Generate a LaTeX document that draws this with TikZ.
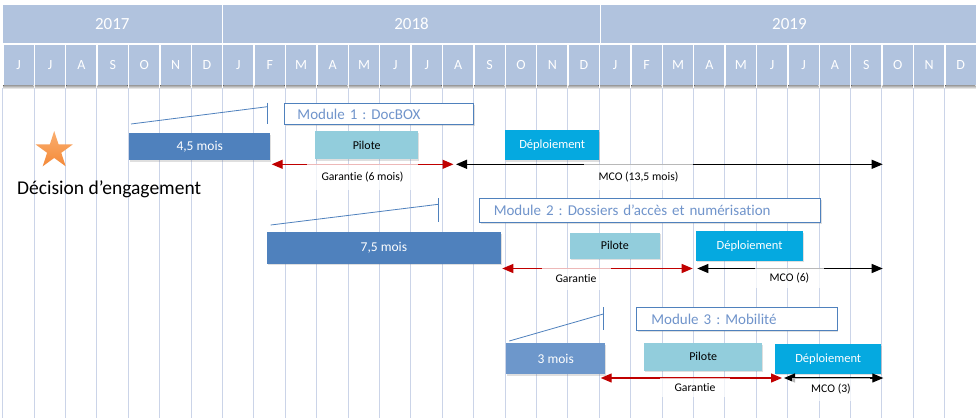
\documentclass[tikz,border=0pt]{standalone}
\usepackage{fontspec}
\setmainfont{Carlito}[Ligatures=NoCommon]
\usetikzlibrary{arrows.meta,shapes.geometric,shadows}
\definecolor{hdr}{HTML}{B1C3DE}
\definecolor{gridc}{HTML}{CBD4E8}
\definecolor{darkb}{HTML}{4F81BD}
\definecolor{midb}{HTML}{6D97CB}
\definecolor{pil}{HTML}{92CDDC}
\definecolor{depc}{HTML}{05A9E0}
\definecolor{modtxt}{HTML}{7094CB}
\definecolor{redc}{HTML}{C00000}
\definecolor{starlight}{HTML}{FAAE70}
\definecolor{stardark}{HTML}{F48A38}
\frenchspacing
\begin{document}
\begin{tikzpicture}[x=1pt,y=-1pt,
  yearcell/.style={fill=hdr, text=white, font=\fontsize{17}{20}\selectfont, inner sep=0pt, minimum height=37.3pt, anchor=north west},
  monthcell/.style={fill=hdr, text=white, font=\fontsize{14}{16}\selectfont, inner sep=0pt, minimum height=40.7pt, minimum width=29.9pt, anchor=north west},
  gridline/.style={draw=gridc, line width=1pt},
  bracket/.style={draw=darkb, line width=0.8pt},
  softshadow/.style={drop shadow={shadow xshift=1.2pt, shadow yshift=-1.6pt, opacity=0.25}},
  modbox/.style={draw=darkb, line width=0.9pt, fill=white, text=modtxt, font=\fontsize{15}{17}\selectfont, inner sep=0pt, anchor=north west, align=left, softshadow},
  durbox/.style={fill=darkb, text=white, font=\fontsize{13.5}{16}\selectfont, inner sep=0pt, anchor=north west, softshadow},
  pilbox/.style={fill=pil, text=black, font=\fontsize{12}{14}\selectfont, inner sep=0pt, anchor=north west, softshadow},
  depbox/.style={fill=depc, text=white, font=\fontsize{12.5}{15}\selectfont, inner sep=0pt, anchor=north west, softshadow},
  garrow/.style={draw=redc, line width=1.2pt, arrows={Triangle[length=11pt,width=9pt]-Triangle[length=11pt,width=9pt]}},
  marrow/.style={draw=black, line width=1.2pt, arrows={Triangle[length=11pt,width=9pt]-Triangle[length=11pt,width=9pt]}},
  lbl/.style={fill=white, fill opacity=0.72, text opacity=1, text=black, font=\fontsize{11.7}{14}\selectfont, inner sep=0pt, anchor=north}
]
\useasboundingbox[fill=white] (0,0) rectangle (976,418);

% grid lines
\foreach \k in {0,...,31}{
  \pgfmathsetmacro\gx{2.7+31.4*\k}
  \draw[gridline] (\gx,88) -- (\gx,418);
}

% header: years
\node[yearcell, minimum width=218.8pt] (y2017) at (2.7,5) {2017};
\node[yearcell, minimum width=376.3pt] (y2018) at (223.2,5) {2018};
\node[yearcell, minimum width=376pt] (y2019) at (601.2,5) {2019};

% header: months
\foreach \m [count=\k from 0] in {J,J,A,S,O,N,D,J,F,M,A,M,J,J,A,S,O,N,D,J,F,M,A,M,J,J,A,S,O,N,D}{
  \pgfmathsetmacro\mx{2.7+31.4*\k+0.75}
  \fill[top color=black!40, bottom color=white] (\mx,85) rectangle ++(29.9,4);
  \node[monthcell] (m\k) at (\mx,44.3) {\m};
}

% star and decision
\node[star, star points=5, star point ratio=2.618, minimum size=39pt, inner sep=0pt, top color=starlight, bottom color=stardark] (star) at (54.2,150.5) {};
\node[anchor=base west, inner sep=0pt, font=\fontsize{19.5}{23}\selectfont] (decision) at (17,194) {Décision d’engagement};

% ---------- Module 1 ----------
\coordinate (b1a) at (131,124);
\coordinate (b1b) at (267.3,106.7);
\coordinate (b1t) at (267.3,102.7);
\coordinate (b1u) at (267.3,124.3);
\draw[bracket] (b1a) -- (b1b);
\draw[bracket] (b1t) -- (b1u);
\node[modbox, minimum width=189pt, minimum height=21.6pt, text width=163pt] (mod1) at (284,102.7) {Module 1 : DocBOX};
\node[durbox, minimum width=141pt, minimum height=27.3pt] (dur1) at (129,132.7) {4,5 mois};
\node[pilbox, minimum width=103pt, minimum height=28.3pt] (pil1) at (315,130.7) {Pilote};
\node[depbox, minimum width=94pt, minimum height=29.7pt] (dep1) at (505,130) {Déploiement};
\coordinate (g1a) at (271.7,164.3);
\coordinate (g1b) at (453.5,164.3);
\coordinate (c1a) at (456,164.3);
\coordinate (c1b) at (882.7,164.3);
\draw[garrow] (g1a) -- (g1b);
\draw[marrow] (c1a) -- (c1b);
\node[lbl, minimum width=111pt, minimum height=26.4pt] (lg1) at (362.5,163.5) {Garantie (6 mois)};
\node[lbl, minimum width=109pt, minimum height=26.4pt] (lc1) at (638.5,163.5) {MCO (13,5 mois)};

% ---------- Module 2 ----------
\coordinate (b2a) at (270.7,225);
\coordinate (b2b) at (438.3,204.3);
\coordinate (b2t) at (438.3,198.3);
\coordinate (b2u) at (438.3,221.7);
\draw[bracket] (b2a) -- (b2b);
\draw[bracket] (b2t) -- (b2u);
\node[modbox, minimum width=341pt, minimum height=23.4pt, text width=313pt] (mod2) at (479.3,198.3) {Module 2 : Dossiers d’accès et numérisation};
\node[durbox, minimum width=234pt, minimum height=31.3pt] (dur2) at (266.7,232) {7,5 mois};
\node[pilbox, minimum width=89.3pt, minimum height=26pt] (pil2) at (570,232.3) {Pilote};
\node[depbox, minimum width=106.7pt, minimum height=29.3pt] (dep2) at (696,231) {Déploiement};
\coordinate (g2a) at (502.3,268.5);
\coordinate (g2b) at (692.7,268.5);
\coordinate (c2a) at (697.3,268.5);
\coordinate (c2b) at (882.7,268.5);
\draw[garrow] (g2a) -- (g2b);
\draw[marrow] (c2a) -- (c2b);
\node[lbl, minimum width=69pt, minimum height=21.6pt] (lg2) at (576,268) {Garantie};
\node[lbl, minimum width=69pt, minimum height=20pt] (lc2) at (789.5,268) {MCO (6)};

% ---------- Module 3 ----------
\coordinate (b3a) at (509.3,341);
\coordinate (b3b) at (603.3,314);
\coordinate (b3t) at (603.3,307.3);
\coordinate (b3u) at (603.3,330.3);
\draw[bracket] (b3a) -- (b3b);
\draw[bracket] (b3t) -- (b3u);
\node[modbox, minimum width=200.7pt, minimum height=23pt, text width=171pt] (mod3) at (636,307.3) {Module 3 : Mobilité};
\node[durbox, fill=midb, minimum width=99pt, minimum height=31pt] (dur3) at (506,342.7) {3 mois};
\node[pilbox, minimum width=118pt, minimum height=27.3pt] (pil3) at (644,343) {Pilote};
\node[depbox, minimum width=106pt, minimum height=29.3pt] (dep3) at (775,344) {Déploiement};
\coordinate (g3a) at (600.7,378);
\coordinate (g3b) at (782,378);
\coordinate (c3a) at (784,378);
\coordinate (c3b) at (883.3,378);
\draw[garrow] (g3a) -- (g3b);
\draw[marrow] (c3a) -- (c3b);
\node[lbl, minimum width=70pt, minimum height=19pt] (lg3) at (695,377.5) {Garantie};
\node[lbl, minimum width=78pt, minimum height=23pt] (lc3) at (831,377.5) {MCO (3)};
\end{tikzpicture}
\end{document}
